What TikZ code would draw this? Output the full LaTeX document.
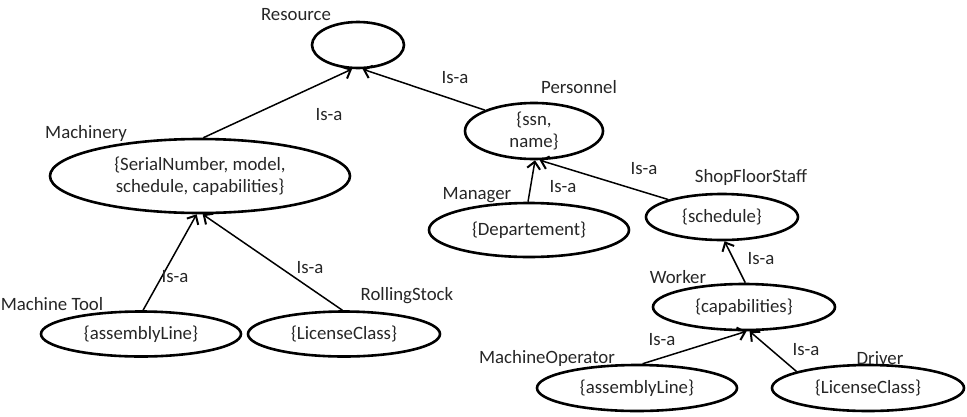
\documentclass[tikz,border=0pt]{standalone}
\usepackage{fontspec}
\setmainfont{Carlito}
\usetikzlibrary{shapes.geometric,arrows.meta}
\begin{document}
\begin{tikzpicture}[x=1pt,y=-1pt,
  ent/.style={ellipse,draw,line width=2.6pt,inner sep=0pt,align=center,text=black!85,
    font=\fontsize{18.8}{22}\selectfont},
  lbl/.style={font=\fontsize{18.8}{22}\selectfont,inner sep=0pt,text=black!85},
  isa/.style={-{Straight Barb[length=7pt,width=13pt,line width=2pt]},line width=1.5pt}
]
\useasboundingbox (0,0) rectangle (967,416);
% entities
\node[ent,minimum width=92pt,minimum height=46pt] (res) at (358,45) {};
\node[ent,minimum width=300pt,minimum height=74pt] (mach) at (200,176) {\{SerialNumber, model,\\schedule, capabilities\}};
\node[ent,minimum width=138pt,minimum height=56pt] (pers) at (534,131) {\{ssn,\\name\}};
\node[ent,minimum width=200pt,minimum height=54pt] (mgr) at (529,230) {\{Departement\}};
\node[ent,minimum width=152pt,minimum height=46pt] (sfs) at (722,217) {\{schedule\}};
\node[ent,minimum width=200pt,minimum height=45pt] (mt) at (141,334) {\{assemblyLine\}};
\node[ent,minimum width=192pt,minimum height=45pt] (rs) at (344,334) {\{LicenseClass\}};
\node[ent,minimum width=182pt,minimum height=46pt] (wrk) at (744,307) {\{capabilities\}};
\node[ent,minimum width=200pt,minimum height=46pt] (mo) at (637,388) {\{assemblyLine\}};
\node[ent,minimum width=192pt,minimum height=46pt] (drv) at (868,388) {\{LicenseClass\}};
% names
\node[lbl] (lres) at (296,15) {Resource};
\node[lbl] (lmach) at (86,133) {Machinery};
\node[lbl] (lpers) at (579,87) {Personnel};
\node[lbl] (lsfs) at (751,177) {ShopFloorStaff};
\node[lbl] (lmgr) at (477,195) {Manager};
\node[lbl] (lwrk) at (678,277) {Worker};
\node[lbl] (lmt) at (52,304) {Machine Tool};
\node[lbl] (lrs) at (407,296) {RollingStock};
\node[lbl] (lmo) at (547,358) {MachineOperator};
\node[lbl] (ldrv) at (880,358) {Driver};
% connectors
\draw[isa] (mach.85.5) -- (res.256);
\draw[isa] (pers.157.6) -- (res.281);
\draw[isa] (mt.85) -- (mach.265.6);
\draw[isa] (rs.94.8) -- (mach.274.4);
\draw[isa] (mgr.92) -- (pers.272);
\draw[isa] (sfs.162.5) -- (pers.281);
\draw[isa] (wrk.87) -- (sfs.276.8);
\draw[isa] (mo.77.7) -- (wrk.276.8);
\draw[isa] (drv.167) -- (wrk.283.5);
% connector labels
\node[lbl] (i1) at (329,115) {Is-a};
\node[lbl] (i2) at (455,78) {Is-a};
\node[lbl] (i3) at (644,169) {Is-a};
\node[lbl] (i4) at (563,187) {Is-a};
\node[lbl] (i5) at (761,259) {Is-a};
\node[lbl] (i6) at (175,277) {Is-a};
\node[lbl] (i7) at (310,268) {Is-a};
\node[lbl] (i8) at (662,340) {Is-a};
\node[lbl] (i9) at (806,350) {Is-a};
\end{tikzpicture}
\end{document}
